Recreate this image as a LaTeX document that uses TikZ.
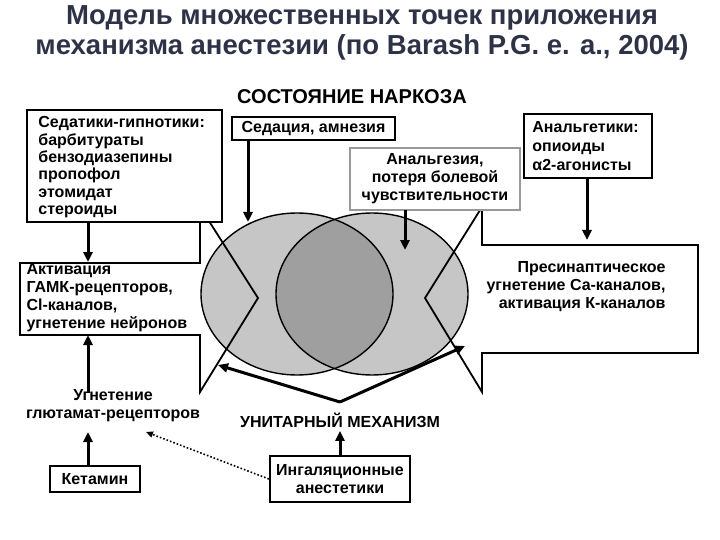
\documentclass[tikz,border=0pt]{standalone}
\usepackage{fontspec}
\setmainfont{Liberation Sans}
\usetikzlibrary{arrows.meta}
\begin{document}
\begin{tikzpicture}[x=1pt,y=-1pt,
  box/.style={draw,line width=2.2pt,fill=white,inner sep=0pt},
  txt/.style={font=\bfseries\fontsize{16}{18}\selectfont,align=left},
  arr/.style={-{Triangle[length=10pt,width=9pt]},line width=3pt},
  shp/.style={line width=1.8pt,line join=miter}]
\useasboundingbox (0,0) rectangle (720,540);
\definecolor{ttl}{RGB}{45,50,70}
\node[font=\bfseries\fontsize{27.5}{30}\selectfont,text=ttl,align=center] (title) at (362,33) {Модель множественных точек приложения\\механизма анестезии (по Barash P.G. e. a., 2004)};
\node[font=\bfseries\fontsize{20}{22}\selectfont] (state) at (352,97) {СОСТОЯНИЕ НАРКОЗА};
% ellipses
\fill[gray!45] (297,294) ellipse [x radius=96,y radius=81];
\fill[gray!45] (372,294) ellipse [x radius=96,y radius=81];
\begin{scope}
\clip (297,294) ellipse [x radius=96,y radius=81];
\fill[gray!75] (372,294) ellipse [x radius=96,y radius=81];
\end{scope}
\draw[line width=1.4pt] (297,294) ellipse [x radius=96,y radius=81];
\draw[line width=1.4pt] (372,294) ellipse [x radius=96,y radius=81];
% chevron arrows
\draw[shp] (200,207) -- (258,298) -- (200,392) -- (200,335) -- (20,335) -- (20,263) -- (200,263) -- cycle;
\draw[shp] (482,207) -- (425,298) -- (482,392) -- (482,353) -- (698,353) -- (698,245) -- (482,245) -- cycle;
\node[txt,anchor=west] (left) at (23,298) {Активация\\ГАМК-рецепторов,\\Cl-каналов,\\угнетение нейронов};
\node[txt,align=right,anchor=east] (right) at (669,287) {Пресинаптическое\\угнетение Са-каналов,\\активация К-каналов};
% top boxes
\node[box,minimum width=195pt,minimum height=112pt] (sed) at (124.5,166) {};
\node[txt,anchor=north west,font=\bfseries\fontsize{16}{17.4}\selectfont] at (sed.north west) [xshift=9pt,yshift=-4pt] {Седатики-гипнотики:\\барбитураты\\бензодиазепины\\пропофол\\этомидат\\стероиды};
\node[box,minimum width=163pt,minimum height=23pt,txt] (sedam) at (313.5,128.5) {Седация, амнезия};
\node[box,draw=gray!80,minimum width=170pt,minimum height=62pt,txt,align=center] (analg) at (435,179) {Анальгезия,\\потеря болевой\\чувствительности};
\node[box,minimum width=128pt,minimum height=64pt] (analget) at (588,146) {};
\node[txt,anchor=north west,font=\bfseries\fontsize{16}{19}\selectfont] at (analget.north west) [xshift=6pt,yshift=-5pt] {Анальгетики:\\опиоиды\\α2-агонисты};
% bottom
\node[txt,align=center] (glu) at (113,406) {Угнетение\\глютамат-рецепторов};
\node[box,minimum width=90pt,minimum height=26pt,txt] (ket) at (95,479) {Кетамин};
\node[box,minimum width=140pt,minimum height=46pt,txt,align=center] (inh) at (340,479) {Ингаляционные\\анестетики};
\node[txt] (uni) at (340,420) {УНИТАРНЫЙ МЕХАНИЗМ};
\coordinate (v) at (340,402);
% arrows
\draw[arr] (248,140) -- (248,222);
\draw[arr] (405,210) -- (405,250);
\draw[arr] (587,178) -- (587,240);
\draw[arr] (88,222) -- (88,262);
\draw[arr] (88,393) -- (88,335);
\draw[arr] (88,466) -- (88,432);
\draw[arr] (inh.north) -- (uni.south);
\draw[arr] (v) -- (218,365);
\draw[arr] (v) -- (465,346);
\draw[-{Triangle[length=7pt,width=6pt]},line width=1.6pt,dotted] (inh.west) -- (146,432);
\end{tikzpicture}
\end{document}
